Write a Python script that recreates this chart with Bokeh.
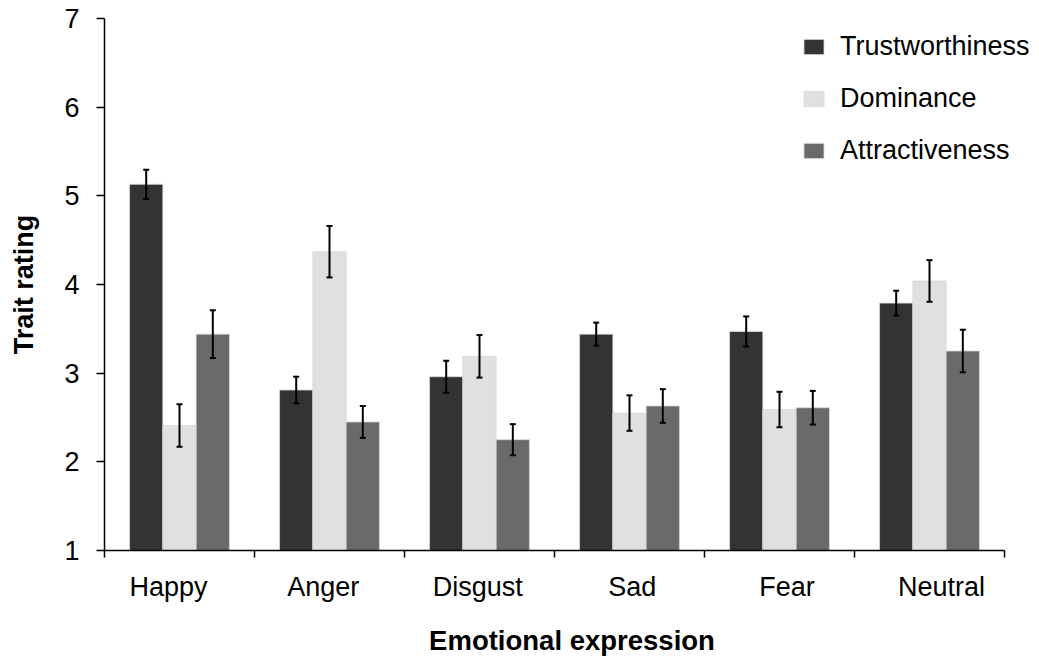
import numpy as np
from bokeh.plotting import figure
from bokeh.models import (ColumnDataSource, Range1d, FixedTicker, Whisker, TeeHead,
                          Legend, LegendItem)
from bokeh.embed import file_html
from bokeh.resources import INLINE

categories = ["Happy", "Anger", "Disgust", "Sad", "Fear", "Neutral"]
series = ["Trustworthiness", "Dominance", "Attractiveness"]
trust = [5.13, 2.81, 2.96, 3.44, 3.47, 3.79]
trust_err = [0.165, 0.15, 0.18, 0.13, 0.17, 0.14]
dominance = [2.41, 4.37, 3.19, 2.55, 2.59, 4.04]
dominance_err = [0.24, 0.29, 0.24, 0.20, 0.20, 0.235]
attract = [3.44, 2.45, 2.25, 2.63, 2.61, 3.25]
attract_err = [0.27, 0.18, 0.175, 0.19, 0.19, 0.24]
y_ticks = [1, 2, 3, 4, 5, 6, 7]

colors = ["#333333", "#e0e0e0", "#6a6a6a"]
FONT = "Liberation Sans"

n = len(categories)
p = figure(width=1039, height=660, x_range=Range1d(0, n + 0.2333), y_range=Range1d(1, 7),
           output_backend="svg", toolbar_location=None,
           min_border_left=104, min_border_right=0, min_border_top=18, min_border_bottom=110)
p.outline_line_color = None
p.xgrid.grid_line_color = None
p.ygrid.grid_line_color = None
p.background_fill_color = "white"

centers = np.arange(n) + 0.5
bar_w = 0.222
offsets = [-bar_w, 0.0, bar_w]
renderers = []
for vals, errs, col, off in zip([trust, dominance, attract],
                                [trust_err, dominance_err, attract_err], colors, offsets):
    v = np.array(vals)
    e = np.array(errs)
    src = ColumnDataSource(dict(x=centers + off, top=v, upper=v + e, lower=v - e))
    r = p.vbar(x="x", top="top", bottom=1, width=bar_w, source=src,
               fill_color=col, line_color="#d8d8d8", line_width=0.8)
    renderers.append(r)
    w = Whisker(source=src, base="x", upper="upper", lower="lower", dimension="height",
                line_color="black", line_width=2,
                upper_head=TeeHead(size=6, line_width=2, line_color="black"),
                lower_head=TeeHead(size=6, line_width=2, line_color="black"),
                level="overlay")
    p.add_layout(w)

# x axis: labels placed as in the reference (slightly wider spread than the bar groups)
label_pos = [0.427 + i * 1.0307 for i in range(n)]
xax = p.xaxis[0]
xax.bounds = (0, n)
xax.ticker = FixedTicker(ticks=label_pos, minor_ticks=list(range(n + 1)))
xax.major_label_overrides = {float(c): name for c, name in zip(label_pos, categories)}
xax.major_tick_out = 0
xax.major_tick_in = 0
xax.minor_tick_out = 7
xax.minor_tick_in = 0
xax.minor_tick_line_color = "black"
xax.minor_tick_line_width = 1.5
xax.axis_line_color = "black"
xax.axis_line_width = 1.5
xax.major_label_text_font = FONT
xax.major_label_text_font_size = "27px"
xax.major_label_text_color = "black"
xax.major_label_standoff = 14
xax.axis_label = "Emotional expression"
xax.axis_label_text_font = FONT
xax.axis_label_text_font_style = "bold"
xax.axis_label_text_font_size = "27.5px"
xax.axis_label_text_color = "black"
xax.axis_label_standoff = 20

# y axis
yax = p.yaxis[0]
yax.ticker = FixedTicker(ticks=y_ticks, minor_ticks=[])
yax.major_tick_out = 8
yax.major_tick_in = 0
yax.major_tick_line_color = "black"
yax.major_tick_line_width = 1.5
yax.axis_line_color = "black"
yax.axis_line_width = 1.5
yax.major_label_text_font = FONT
yax.major_label_text_font_size = "27px"
yax.major_label_text_color = "black"
yax.major_label_standoff = 17
yax.axis_label = "Trait rating"
yax.axis_label_text_font = FONT
yax.axis_label_text_font_style = "bold"
yax.axis_label_text_font_size = "27px"
yax.axis_label_text_color = "black"
yax.axis_label_standoff = 22

legend = Legend(items=[LegendItem(label=s, renderers=[r]) for s, r in zip(series, renderers)],
                location=(697, 384), padding=0, margin=0, spacing=21,
                glyph_width=25, glyph_height=19, label_standoff=14,
                label_text_font=FONT, label_text_font_size="27px", label_text_color="black",
                border_line_color=None, background_fill_alpha=0)
p.add_layout(legend)

open("out.html", "w").write(file_html(p, INLINE))
